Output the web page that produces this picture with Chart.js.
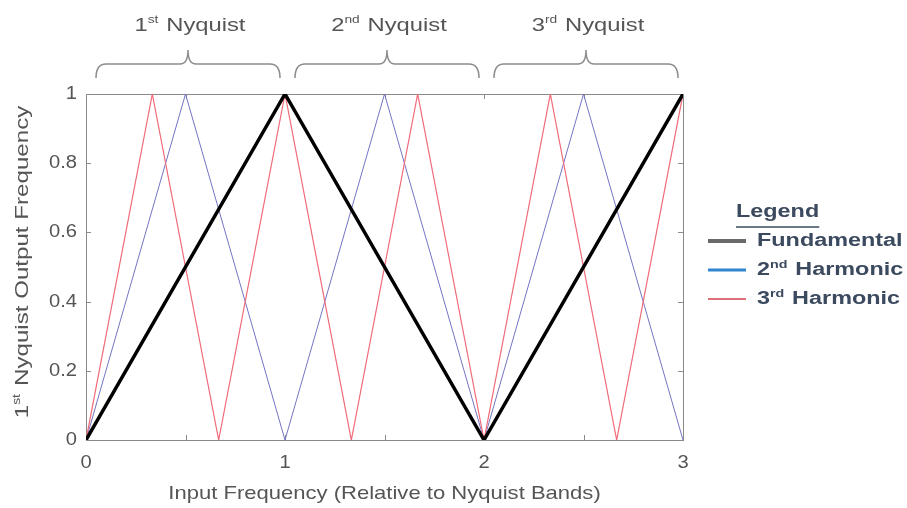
<!DOCTYPE html>
<html>
<head>
<meta charset="utf-8">
<script src="https://cdn.jsdelivr.net/npm/chart.js@4"></script>
<style>
  body { margin: 0; background: #fff; }
  #wrap { width: 907px; height: 508px; }
</style>
</head>
<body>
<div id="wrap"><canvas id="chart" width="907" height="508"></canvas></div>
<script>
'use strict';

// data
let fundX = [0, 1, 2, 3];
let fundY = [0, 1, 0, 1];
let harm2X = [0, 0.5, 1, 1.5, 2, 2.5, 3];
let harm2Y = [0, 1, 0, 1, 0, 1, 0];
let harm3X = [0, 1 / 3, 2 / 3, 1, 4 / 3, 5 / 3, 2, 7 / 3, 8 / 3, 3];
let harm3Y = [0, 1, 0, 1, 0, 1, 0, 1, 0, 1];

let xTicks = [0, 1, 2, 3];
let yTicks = [0, 0.2, 0.4, 0.6, 0.8, 1];
let bands = [
  { from: 0, to: 1, num: '1', sup: 'st' },
  { from: 1, to: 2, num: '2', sup: 'nd' },
  { from: 2, to: 3, num: '3', sup: 'rd' }
];
let legendItems = [
  { num: '', sup: '', text: 'Fundamental', color: '#6a6a6a', width: 4 },
  { num: '2', sup: 'nd', text: ' Harmonic', color: '#2f86cf', width: 3 },
  { num: '3', sup: 'rd', text: ' Harmonic', color: '#e07078', width: 2 }
];

function pairs(xs, ys) {
  let out = [];
  for (let i = 0; i < xs.length; i++) {
    out.push({ x: xs[i], y: ys[i] });
  }
  return out;
}

const FONT = '"Liberation Sans", Arial, sans-serif';
const TEXT = '#555';
const LEGEND_TEXT = '#3b4a5e';

// the reference text looks a bit wider than Arial, so stretch it sideways
function stretchText(ctx, x, y, str, font, align, sx) {
  ctx.save();
  ctx.font = font;
  ctx.textBaseline = 'middle';
  ctx.textAlign = align;
  ctx.translate(x, y);
  ctx.scale(sx, 1);
  ctx.fillText(str, 0, 0);
  ctx.restore();
}

// "1st Nyquist" style text with a raised suffix
function supText(ctx, x, y, num, sup, rest, size, bold, align, sx) {
  let w = bold ? 'bold ' : '';
  let big = w + size + 'px ' + FONT;
  let small = w + Math.round(size * 0.6) + 'px ' + FONT;
  ctx.save();
  ctx.font = big;
  let w1 = ctx.measureText(num).width;
  let w3 = ctx.measureText(rest).width;
  ctx.font = small;
  let w2 = sup ? ctx.measureText(sup).width + 1 : 0;
  let total = w1 + w2 + w3;
  ctx.translate(x, y);
  ctx.scale(sx, 1);
  let x0 = align === 'left' ? 0 : -total / 2;
  ctx.textBaseline = 'middle';
  ctx.textAlign = 'left';
  ctx.font = big;
  ctx.fillText(num, x0, 0);
  ctx.font = small;
  ctx.fillText(sup, x0 + w1, -size * 0.3);
  ctx.font = big;
  ctx.fillText(rest, x0 + w1 + w2, 0);
  ctx.restore();
  return total * sx;
}

function brace(ctx, x1, x2, yTop, yBot) {
  let mid = (x1 + x2) / 2;
  let yMid = yBot - 14;
  ctx.beginPath();
  ctx.moveTo(x1, yBot);
  ctx.quadraticCurveTo(x1, yMid, x1 + 10, yMid);
  ctx.lineTo(mid - 8, yMid);
  ctx.quadraticCurveTo(mid, yMid, mid, yTop);
  ctx.quadraticCurveTo(mid, yMid, mid + 8, yMid);
  ctx.lineTo(x2 - 10, yMid);
  ctx.quadraticCurveTo(x2, yMid, x2, yBot);
  ctx.stroke();
}

const decorations = {
  id: 'decorations',
  beforeDatasetsDraw(chart) {
    let ctx = chart.ctx;
    let a = chart.chartArea;
    let xs = chart.scales.x;
    let ys = chart.scales.y;
    ctx.save();
    // axes box
    ctx.strokeStyle = '#8a8a8a';
    ctx.lineWidth = 1;
    ctx.strokeRect(a.left + 0.5, a.top + 0.5, a.right - a.left, a.bottom - a.top);
    // inward ticks
    ctx.beginPath();
    for (let v = 0; v <= 3.001; v += 0.5) {
      let px = Math.round(xs.getPixelForValue(v)) + 0.5;
      ctx.moveTo(px, a.bottom);
      ctx.lineTo(px, a.bottom - 5);
      ctx.moveTo(px, a.top);
      ctx.lineTo(px, a.top + 5);
    }
    for (let i = 0; i < yTicks.length; i++) {
      let py = Math.round(ys.getPixelForValue(yTicks[i])) + 0.5;
      ctx.moveTo(a.left, py);
      ctx.lineTo(a.left + 5, py);
      ctx.moveTo(a.right, py);
      ctx.lineTo(a.right - 5, py);
    }
    ctx.stroke();

    // tick labels
    ctx.fillStyle = TEXT;
    let tickFont = '18px ' + FONT;
    for (let i = 0; i < xTicks.length; i++) {
      stretchText(ctx, xs.getPixelForValue(xTicks[i]), 463, String(xTicks[i]), tickFont, 'center', 1.12);
    }
    for (let i = 0; i < yTicks.length; i++) {
      stretchText(ctx, a.left - 9, ys.getPixelForValue(yTicks[i]), String(yTicks[i]), tickFont, 'right', 1.12);
    }
    ctx.restore();
  },
  afterDraw(chart) {
    let ctx = chart.ctx;
    let a = chart.chartArea;
    let xs = chart.scales.x;
    ctx.save();
    // band braces and labels
    ctx.strokeStyle = '#8c8c8c';
    ctx.lineWidth = 1.5;
    ctx.fillStyle = TEXT;
    for (let i = 0; i < bands.length; i++) {
      let b = bands[i];
      let x1 = xs.getPixelForValue(b.from) + 10;
      let x2 = xs.getPixelForValue(b.to) - 5;
      brace(ctx, x1, x2, 50, 78);
      supText(ctx, (x1 + x2) / 2 + 2, 26, b.num, b.sup, ' Nyquist', 19, false, 'center', 1.25);
    }
    // axis titles
    stretchText(ctx, (a.left + a.right) / 2, 494, 'Input Frequency (Relative to Nyquist Bands)', '19px ' + FONT, 'center', 1.16);
    ctx.save();
    ctx.translate(23, 262);
    ctx.rotate(-Math.PI / 2);
    supText(ctx, 0, 0, '1', 'st', ' Nyquist Output Frequency', 19, false, 'center', 1.27);
    ctx.restore();
    // legend
    ctx.fillStyle = LEGEND_TEXT;
    stretchText(ctx, 736, 212, 'Legend', 'bold 18px ' + FONT, 'left', 1.3);
    ctx.font = 'bold 18px ' + FONT;
    let lw = ctx.measureText('Legend').width * 1.3;
    ctx.strokeStyle = LEGEND_TEXT;
    ctx.lineWidth = 1.5;
    ctx.beginPath();
    ctx.moveTo(736, 227);
    ctx.lineTo(736 + lw, 227);
    ctx.stroke();
    for (let i = 0; i < legendItems.length; i++) {
      let it = legendItems[i];
      let y = 241 + i * 29;
      ctx.strokeStyle = it.color;
      ctx.lineWidth = it.width;
      ctx.beginPath();
      ctx.moveTo(708, y);
      ctx.lineTo(746, y);
      ctx.stroke();
      ctx.fillStyle = LEGEND_TEXT;
      supText(ctx, 757, y, it.num, it.sup, it.text, 18, true, 'left', 1.3);
    }
    ctx.restore();
  }
};

const ctx = document.getElementById('chart');
const myChart = new Chart(ctx, {
  type: 'line',
  data: {
    datasets: [
      {
        label: 'Fundamental',
        data: pairs(fundX, fundY),
        borderColor: '#000',
        borderWidth: 3.5,
        pointRadius: 0,
        order: 0
      },
      {
        label: '2nd Harmonic',
        data: pairs(harm2X, harm2Y),
        borderColor: '#7474c4',
        borderWidth: 1,
        pointRadius: 0,
        order: 2
      },
      {
        label: '3rd Harmonic',
        data: pairs(harm3X, harm3Y),
        borderColor: '#f06a78',
        borderWidth: 1.2,
        pointRadius: 0,
        order: 1
      }
    ]
  },
  options: {
    responsive: false,
    animation: false,
    events: [],
    layout: { padding: { top: 94, right: 224, left: 0, bottom: 0 } },
    plugins: {
      legend: { display: false },
      tooltip: { enabled: false }
    },
    scales: {
      x: {
        type: 'linear',
        min: 0,
        max: 3,
        afterBuildTicks: s => { s.ticks = xTicks.map(v => ({ value: v })); },
        afterFit: s => { s.height = 68; },
        grid: { display: false },
        border: { display: false },
        ticks: { display: false }
      },
      y: {
        min: 0,
        max: 1,
        afterBuildTicks: s => { s.ticks = yTicks.map(v => ({ value: v })); },
        afterFit: s => { s.width = 86; },
        grid: { display: false },
        border: { display: false },
        ticks: { display: false }
      }
    }
  },
  plugins: [decorations]
});
</script>
</body>
</html>
